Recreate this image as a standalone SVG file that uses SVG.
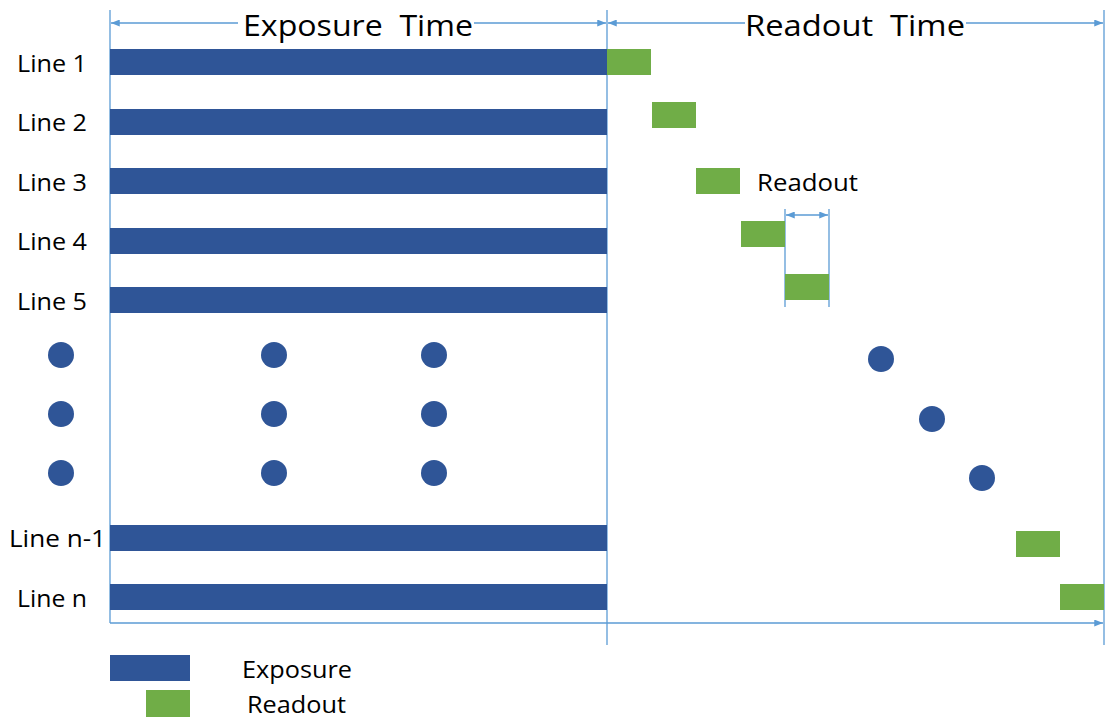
<svg xmlns="http://www.w3.org/2000/svg" width="1105" height="720" viewBox="0 0 1105 720">
<style>
  .exp { fill: #2f5597; }
  .rd { fill: #70ad47; }
  .dot { fill: #2f5597; }
  .ln { stroke: #5b9bd5; stroke-width: 1.3; fill: none; }
  .lbl { font-family: "Open Sans", "Liberation Sans", sans-serif; font-size: 24px; fill: #000; }
  .ttl { font-family: "Open Sans", "Liberation Sans", sans-serif; font-size: 30px; fill: #000; }
</style>
<defs>
  <marker id="ah" viewBox="0 0 10 8" refX="10" refY="4" markerWidth="10" markerHeight="7" markerUnits="userSpaceOnUse" orient="auto-start-reverse">
    <path d="M0,0 L10,4 L0,8 Z" fill="#5b9bd5"/>
  </marker>
</defs>
<rect width="1105" height="720" fill="#fff"/>

<g id="connectors">
  <line class="ln" x1="110" y1="10" x2="110" y2="623"/>
  <line class="ln" x1="607" y1="10" x2="607" y2="645"/>
  <line class="ln" x1="1104" y1="10" x2="1104" y2="645"/>
  <line class="ln" x1="111" y1="23" x2="238" y2="23" marker-start="url(#ah)"/>
  <line class="ln" x1="474" y1="23" x2="606" y2="23" marker-end="url(#ah)"/>
  <line class="ln" x1="608" y1="23" x2="745" y2="23" marker-start="url(#ah)"/>
  <line class="ln" x1="966" y1="23" x2="1103" y2="23" marker-end="url(#ah)"/>
  <line class="ln" x1="110" y1="623" x2="1103" y2="623" marker-end="url(#ah)"/>
  <line class="ln" x1="785" y1="209" x2="785" y2="307"/>
  <line class="ln" x1="829" y1="209" x2="829" y2="307"/>
  <line class="ln" x1="786" y1="215" x2="828" y2="215" marker-start="url(#ah)" marker-end="url(#ah)"/>
</g>

<g id="titles">
  <text class="ttl" x="243" y="36" textLength="230" lengthAdjust="spacingAndGlyphs">Exposure&#160; Time</text>
  <text class="ttl" x="745" y="36" textLength="220" lengthAdjust="spacingAndGlyphs">Readout&#160; Time</text>
</g>

<g id="line1">
  <text class="lbl" x="17" y="72" textLength="70" lengthAdjust="spacingAndGlyphs">Line 1</text>
  <rect class="exp" x="110" y="49" width="497" height="26"/>
  <rect class="rd" x="607" y="49" width="44" height="26"/>
</g>
<g id="line2">
  <text class="lbl" x="17" y="131" textLength="70" lengthAdjust="spacingAndGlyphs">Line 2</text>
  <rect class="exp" x="110" y="109" width="497" height="26"/>
  <rect class="rd" x="652" y="102" width="44" height="26"/>
</g>
<g id="line3">
  <text class="lbl" x="17" y="191" textLength="70" lengthAdjust="spacingAndGlyphs">Line 3</text>
  <rect class="exp" x="110" y="168" width="497" height="26"/>
  <rect class="rd" x="696" y="168" width="44" height="26"/>
  <text class="lbl" x="757" y="191" textLength="101" lengthAdjust="spacingAndGlyphs">Readout</text>
</g>
<g id="line4">
  <text class="lbl" x="17" y="250" textLength="70" lengthAdjust="spacingAndGlyphs">Line 4</text>
  <rect class="exp" x="110" y="228" width="497" height="26"/>
  <rect class="rd" x="741" y="221" width="44" height="26"/>
</g>
<g id="line5">
  <text class="lbl" x="17" y="310" textLength="70" lengthAdjust="spacingAndGlyphs">Line 5</text>
  <rect class="exp" x="110" y="287" width="497" height="26"/>
  <rect class="rd" x="785" y="274" width="44" height="26"/>
</g>

<g id="ellipsis">
  <circle class="dot" cx="61" cy="355" r="13"/>
  <circle class="dot" cx="61" cy="414" r="13"/>
  <circle class="dot" cx="61" cy="473" r="13"/>
  <circle class="dot" cx="274" cy="355" r="13"/>
  <circle class="dot" cx="274" cy="414" r="13"/>
  <circle class="dot" cx="274" cy="473" r="13"/>
  <circle class="dot" cx="434" cy="355" r="13"/>
  <circle class="dot" cx="434" cy="414" r="13"/>
  <circle class="dot" cx="434" cy="473" r="13"/>
  <circle class="dot" cx="881" cy="359" r="13"/>
  <circle class="dot" cx="932" cy="419" r="13"/>
  <circle class="dot" cx="982" cy="478" r="13"/>
</g>

<g id="line-n-1">
  <text class="lbl" x="9" y="547" textLength="97" lengthAdjust="spacingAndGlyphs">Line n-1</text>
  <rect class="exp" x="110" y="525" width="497" height="26"/>
  <rect class="rd" x="1016" y="531" width="44" height="26"/>
</g>
<g id="line-n">
  <text class="lbl" x="17" y="607" textLength="70" lengthAdjust="spacingAndGlyphs">Line n</text>
  <rect class="exp" x="110" y="584" width="497" height="26"/>
  <rect class="rd" x="1060" y="584" width="44" height="26"/>
</g>

<g id="legend">
  <rect class="exp" x="110" y="655" width="80" height="26"/>
  <text class="lbl" x="242" y="678" textLength="110" lengthAdjust="spacingAndGlyphs">Exposure</text>
  <rect class="rd" x="146" y="690" width="44" height="27"/>
  <text class="lbl" x="247" y="713" textLength="99" lengthAdjust="spacingAndGlyphs">Readout</text>
</g>
</svg>
